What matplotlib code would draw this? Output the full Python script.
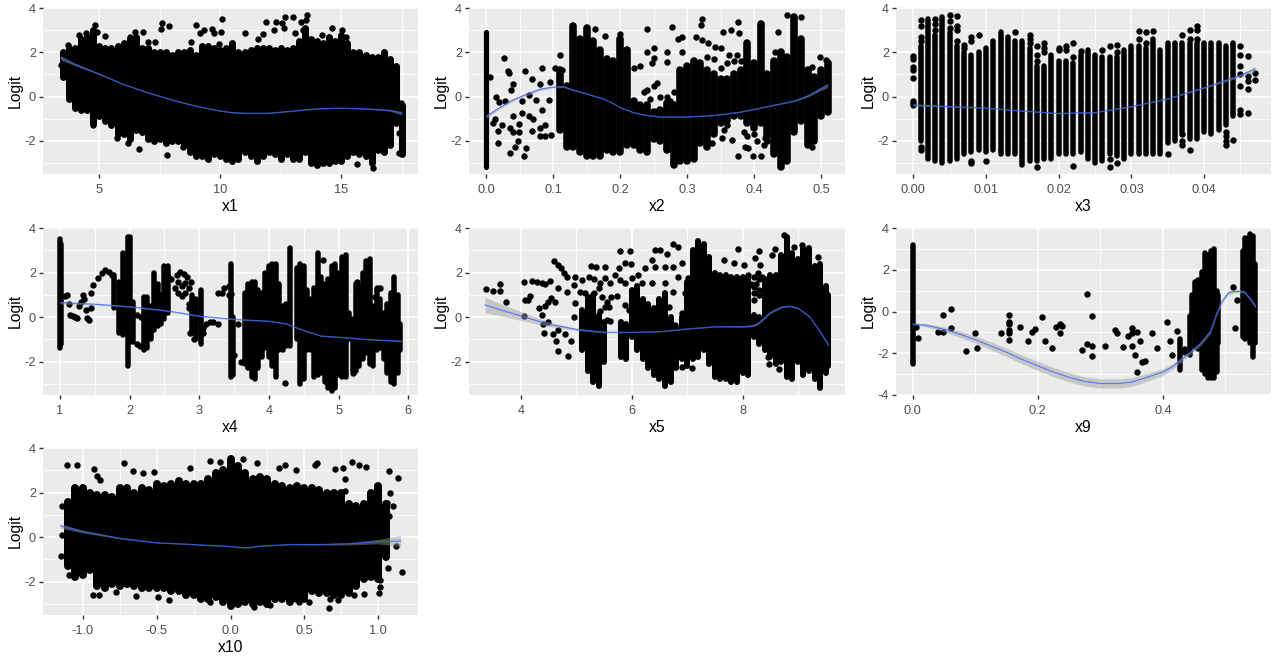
import matplotlib
matplotlib.use("Agg")
import matplotlib.pyplot as plt
import numpy as np

plt.rcParams['font.family'] = ['Liberation Sans', 'DejaVu Sans']

# ---------- x1 ----------
x1_col = [3.5,3.75,4.0,4.25,4.5,4.75,5.0,5.25,5.5,5.75,
          6.0,6.25,6.5,6.75,7.0,7.25,7.5,7.75,8.0,8.25,
          8.5,8.75,9.0,9.25,9.5,9.75,10.0,10.25,10.5,10.75,
          11.0,11.25,11.5,11.75,12.0,12.25,12.5,12.75,13.0,13.25,
          13.5,13.75,14.0,14.25,14.5,14.75,15.0,15.25,15.5,15.75,
          16.0,16.25,16.5,16.75,17.0,17.25,17.5]
x1_lo = [0.9,-0.1,-0.5,-0.6,-0.6,-1.2,-0.9,-1.1,-1.3,-1.7,
         -1.7,-1.9,-1.5,-1.6,-1.9,-2.0,-1.9,-2.1,-2.0,-2.0,
         -2.2,-2.5,-2.7,-2.7,-2.8,-2.6,-2.7,-2.8,-2.9,-2.8,
         -2.5,-2.7,-2.9,-2.7,-2.5,-2.6,-2.8,-2.6,-2.8,-2.8,
         -2.5,-3.0,-3.1,-3.0,-3.0,-2.9,-2.9,-2.7,-2.5,-2.6,
         -2.7,-3.0,-2.4,-2.5,-2.2,-1.2,-2.6]
x1_hi = [2.0,2.2,2.2,2.6,2.7,3.0,2.3,2.2,2.2,2.3,
         2.4,2.6,2.7,2.2,2.2,2.0,2.0,2.0,1.9,2.0,
         2.0,2.1,1.9,2.3,2.3,2.2,2.1,2.2,2.4,2.0,
         2.0,2.1,2.2,2.2,2.2,2.1,2.2,2.1,2.2,2.5,
         3.1,2.6,2.5,2.4,2.7,2.5,2.8,2.4,2.0,2.0,
         1.9,1.8,1.8,2.0,1.7,1.4,-0.4]
x1_px = [3.4,3.72,4.17,4.45,4.8,4.9,5.23,6.27,6.47,6.8,7.0,7.3,7.57,7.53,7.87,8.98,8.8,9.15,9.32,9.66,
         9.75,10.05,10.02,9.95,11.04,11.56,11.77,11.9,12.28,12.2,12.55,12.66,13.0,12.63,13.07,13.35,13.56,13.58,13.42,14.2,
         14.6,15.03,15.2,5.72,6.2,6.65,7.78,8.47,4.75,16.3,15.66,17.4,17.38,17.48,17.17]
x1_py = [1.43,2.33,2.79,2.86,3.24,2.94,2.74,2.71,2.9,2.9,2.45,2.45,3.31,3.06,3.19,3.24,2.48,2.86,3.0,3.06,
         2.86,3.49,2.94,2.36,2.86,2.59,2.82,3.36,3.39,3.0,3.31,3.58,3.58,3.09,2.86,3.39,3.46,3.69,3.0,2.79,
         3.09,3.0,2.7,-1.88,-2.1,-2.38,-2.63,-2.26,-1.28,-3.24,-3.04,-2.56,-1.66,-0.3,0.65]
x1_fit_x = [3.4,4,5,6,7,8,9,10,10.5,11,12,13,14,15,16,17,17.5]
x1_fit_y = [1.75,1.45,1.02,0.55,0.18,-0.15,-0.43,-0.65,-0.72,-0.75,-0.75,-0.65,-0.55,-0.52,-0.55,-0.62,-0.75]
x1_fit_se = [0.1,0.06,0.03,0.02,0.02,0.02,0.02,0.02,0.02,0.02,0.02,0.02,0.02,0.02,0.02,0.04,0.08]

# ---------- x2 ----------
x2_zero_x = [0.0]
x2_zero_lo = [-3.2]
x2_zero_hi = [2.9]
x2_col = [0.11,0.12,0.13,0.14,0.15,0.16,0.17,0.18,0.19,
          0.20,0.21,0.22,0.23,0.24,0.25,0.26,0.27,0.28,0.29,
          0.30,0.31,0.32,0.33,0.34,0.35,0.36,0.37,0.38,0.39,
          0.40,0.41,0.42,0.43,0.44,0.45,0.46,0.47,0.48,0.49,
          0.50,0.51]
x2_lo = [-1.5,-2.3,-2.3,-2.5,-2.7,-2.7,-2.7,-2.4,-2.5,
         -2.5,-2.2,-2.2,-2.4,-2.5,-1.9,-2.0,-2.4,-3.1,-2.9,
         -2.9,-2.8,-2.1,-2.3,-1.7,-1.2,-1.1,-0.9,-0.9,-1.2,
         -1.4,-1.2,-1.8,-2.6,-3.2,-2.9,-1.6,-1.1,-2.2,-2.0,
         -0.9,-0.7]
x2_hi = [1.2,0.5,3.2,2.6,3.1,2.5,2.1,1.7,1.6,
         2.6,2.1,-0.2,-0.4,-0.4,-0.7,-0.6,-0.3,-0.4,1.2,
         1.4,1.6,1.5,1.2,1.0,0.8,0.8,1.0,1.2,2.4,
         1.5,3.3,1.0,1.6,2.0,1.8,3.6,2.6,1.2,0.9,
         1.2,1.5]
x2_px = [.005,.014,.027,.032,.034,.04,.037,.058,.068,.083,.08,.019,.028,.054,.064,.075,.013,.01,.023,.018,
         .017,.04,.053,.035,.04,.049,.049,.064,.07,.069,.08,.08,.088,.083,.097,.088,.035,.057,.06,.048,
         .043,.093,.095,.11,.103,.113,.163,.177,.2,.24,.22,.23,.24,.25,.25,.247,.27,.27,.277,.287,
         .293,.292,.313,.322,.321,.322,.332,.342,.35,.353,.366,.376,.378,.362,.374,.431,.436,.45,.471,.498,
         .486,.508,.411,.399,.376,.386,.391,.416,.337,.352,.367,.486,
         .35,.36,.34,.33,.38,.37,.355,.36,.385,.39,.4,.405,.415,.42,
         .24,.25,.255,.26,.27,.28,.245,.235,.275]
x2_py = [.9,0,1.73,1.17,1.05,.56,.3,1.16,.8,1.28,.57,-.23,-.2,-.2,.08,-.15,-1.0,-1.2,-1.28,-1.55,
         -2.1,-.87,-.75,-1.43,-1.58,-1.58,-1.23,-.9,-1.02,-1.55,-1.8,-1.43,-1.28,-.6,-1.73,-1.76,-2.53,-2.68,-2.33,-2.03,
         -2.26,-.15,.68,1.88,1.28,1.2,3.04,2.74,2.83,3.04,1.28,1.39,2.0,2.18,1.73,1.54,2.03,1.58,3.13,2.59,
         2.71,2.03,2.68,3.49,3.24,2.56,2.44,2.26,2.18,2.9,3.0,3.39,2.86,1.88,1.88,2.03,2.94,3.69,3.6,1.78,
         1.35,1.66,-2.7,-2.7,-2.7,-2.26,-2.33,-1.88,-2.1,-1.88,-1.96,-2.26,
         1.3,1.5,1.7,1.8,1.6,1.6,-1.5,-1.3,-1.6,-1.8,-1.7,-2.0,-2.2,-2.0,
         .3,.5,.6,0,0,.2,-.1,.2,-.2]
x2_fit_x = [0,.02,.04,.06,.08,.1,.115,.13,.15,.175,.19,.2,.22,.24,.26,.3,.34,.38,.42,.46,.48,.5,.51]
x2_fit_y = [-.9,-.5,-.15,.1,.33,.43,.45,.3,.12,-.1,-.32,-.5,-.72,-.85,-.92,-.92,-.85,-.7,-.45,-.2,.02,.35,.5]
x2_fit_se = [.08,.06,.06,.06,.06,.05,.04,.03,.02,.02,.02,.02,.02,.02,.02,.02,.02,.02,.02,.03,.05,.08,.1]

# ---------- x3 ----------
x3_col = [.001,.002,.003,.004,.005,.006,.007,.008,.009,.010,
          .011,.012,.013,.014,.015,.016,.017,.018,.019,.020,
          .021,.022,.023,.024,.025,.026,.027,.028,.029,.030,
          .031,.032,.033,.034,.035,.036,.037,.038,.039,.040,
          .041,.042,.043,.044]
x3_lo = [-2.0,-2.8,-2.9,-3.0,-2.9,-2.8,-2.6,-2.5,-2.4,-2.5,
         -2.4,-2.6,-2.6,-2.6,-3.1,-2.9,-2.9,-2.8,-2.8,-2.6,
         -2.6,-2.6,-2.5,-2.8,-3.0,-2.9,-2.6,-2.7,-2.8,-2.6,
         -2.6,-2.6,-2.6,-2.6,-2.1,-2.0,-1.6,-1.9,-1.9,-1.6,
         -1.7,-1.5,-1.3,-0.9]
x3_hi = [2.3,3.5,2.8,3.6,2.9,2.3,2.0,1.9,2.0,2.2,
         2.5,2.9,2.7,2.5,2.5,2.2,1.4,1.4,1.9,1.6,
         1.6,1.5,1.9,2.1,1.9,1.8,1.8,1.8,2.1,2.3,
         2.3,2.2,2.6,2.1,2.4,2.4,2.4,2.4,2.4,2.4,
         2.4,2.4,2.3,2.4]
x3_px = [0,0,0,0,0,0,0,0,.045,.045,.045,.045,.045,.045,.045,.046,.046,.046,.046,.046,.047,.047,
         .001,.001,.001,.001,.001,.001,.003,.003,.003,.005,.005,.005,.006,.006,.006,.006,.007,.007,
         .008,.008,.008,.008,.009,.010,.014,.016,.016,.016,.017,.017,.017,.017,.018,.018,.018,.020,.020,.021,
         .021,.022,.022,.022,.023,.026,.027,.027,.027,.028,.028,.028,.031,.031,.032,.032,.033,.035,.037,.037,
         .037,.037,.038,.038,.038,.039,.039,.039,.043,.043,.043,.043,.044]
x3_py = [-.4,-.3,-.2,.85,1.2,1.35,1.7,1.85,-.8,-.6,.5,1.0,1.4,1.9,2.3,1.85,.35,.7,-.75,.95,.75,1.05,
         2.5,2.7,3.2,3.45,-2.3,-2.4,3.0,3.3,3.5,3.1,3.4,3.7,2.5,3.0,3.2,3.65,2.2,2.35,
         2.5,2.7,-2.9,-3.0,2.8,-2.9,2.9,2.4,2.6,2.8,1.6,1.9,2.3,-3.2,2.0,2.2,2.4,2.1,2.2,2.1,
         2.3,1.8,2.4,-3.15,2.05,2.1,2.3,-2.8,-3.2,2.0,2.35,-3.0,2.6,2.95,2.4,2.9,2.95,-2.6,2.8,-1.7,
         -2.0,-2.2,2.6,3.0,-2.4,2.6,3.0,3.2,-1.6,-1.8,-2.0,-2.2,-1.95]
x3_fit_x = [0,.005,.01,.015,.02,.025,.03,.035,.04,.045,.047]
x3_fit_y = [-.38,-.45,-.52,-.65,-.76,-.72,-.45,-.1,.4,.95,1.25]
x3_fit_se = [.05,.03,.02,.02,.02,.02,.02,.02,.03,.07,.12]

# ---------- x4 ----------
x4_col = [1.0,1.02,1.78,1.85,1.9,1.95,1.98,2.0,2.05,2.2,
          2.25,2.3,2.35,2.4,2.45,2.5,2.55,2.9,2.95,3.03,
          3.45,3.48,3.65,3.7,3.75,3.8,3.85,3.9,3.95,4.0,
          4.05,4.1,4.15,4.2,4.25,4.3,4.4,4.45,4.5,4.55,
          4.6,4.65,4.7,4.75,4.8,4.85,4.9,4.95,5.0,5.05,
          5.1,5.15,5.2,5.25,5.3,5.35,5.4,5.45,5.5,5.55,
          5.6,5.65,5.7,5.75,5.8,5.85,5.88]
x4_lo = [-1.4,-1.2,0.4,-0.7,-0.8,-0.5,-2.2,-1.1,-1.1,-1.5,
         -1.4,-1.0,-0.6,-0.4,-0.3,-0.1,0.2,-0.7,-1.0,-1.2,
         -2.7,-2.6,-2.1,-2.3,-2.7,-2.8,-2.3,-1.8,-1.4,-1.8,
         -2.2,-2.7,-1.5,-1.5,-1.3,-1.3,-1.0,-3.0,-2.8,-1.5,
         -1.5,-2.7,-2.6,-2.5,-2.9,-3.2,-3.3,-3.2,-2.6,-2.7,
         -2.7,-1.0,-2.4,-2.4,-2.2,-1.9,-1.6,-2.1,-2.2,-1.5,
         -1.4,-1.9,-2.5,-2.9,-3.0,-2.5,-1.5]
x4_hi = [3.5,3.3,1.9,1.6,2.9,2.5,3.6,3.6,0.7,0.9,
         0.9,0.5,2.0,1.5,1.0,2.3,2.3,1.0,0.8,1.2,
         2.4,0.0,1.1,1.5,1.6,1.6,1.2,1.1,2.0,2.3,
         2.4,2.4,1.5,0.5,0.6,3.1,2.2,2.4,2.3,1.2,
         0.8,1.3,2.9,1.8,1.5,1.7,2.3,2.4,2.0,2.7,
         2.8,0.2,-0.1,1.5,1.4,2.0,2.5,2.6,0.5,1.2,
         0.8,0.2,0.6,1.1,1.8,1.0,-0.3]
x4_px = [1.1,1.07,1.13,1.14,1.18,1.22,1.24,1.27,1.3,1.33,1.35,1.37,1.39,1.42,1.44,1.44,1.47,1.55,1.6,1.65,
         1.7,1.75,2.1,2.15,2.17,2.1,2.55,2.6,2.65,2.7,2.75,2.8,2.85,2.68,2.72,2.78,2.83,2.88,2.8,2.75,
         2.7,2.52,2.85,2.85,2.87,2.92,3.05,3.1,3.15,3.2,3.27,3.27,3.33,3.36,3.42,3.43,3.45,3.05,3.5,4.23,
         4.78,4.93,5.2,5.27,5.3,5.55,5.6,5.52,3.6,3.55]
x4_py = [1.0,.95,.6,.1,.05,0,-.05,.5,.7,1.0,.8,.3,-.05,-.15,.4,1.1,1.45,1.75,2.0,2.1,
         2.05,1.9,-1.2,-1.3,0,.1,1.8,1.7,1.3,1.1,.95,1.1,1.3,1.9,2.05,1.95,1.8,1.6,1.55,1.4,
         1.6,.5,.6,.4,-.7,-1,-.5,-.3,-.2,-.2,-.3,1.1,1.1,1.3,1.0,1.4,1.05,-.7,-1.7,-2.95,
         2.55,1.5,-2.5,1.6,1.0,1.3,1.3,.9,-2.0,-.3]
x4_fit_x = [1,1.5,2,2.5,3,3.5,4,4.25,4.4,4.5,4.75,5,5.4,5.9]
x4_fit_y = [.65,.58,.47,.3,.05,-.1,-.18,-.3,-.48,-.6,-.85,-.9,-1.0,-1.08]
x4_fit_se = [.06,.04,.03,.03,.03,.03,.02,.02,.02,.02,.02,.02,.02,.03]

# ---------- x5 ----------
x5_col = [5.1,5.2,5.3,5.4,5.5,5.8,5.9,6.0,6.1,6.2,
          6.3,6.4,6.5,6.6,6.7,6.8,6.9,7.0,7.1,7.2,
          7.3,7.4,7.5,7.6,7.7,7.8,7.9,8.0,8.1,8.2,
          8.3,8.4,8.5,8.6,8.7,8.8,8.9,9.0,9.1,9.2,
          9.3,9.4,9.5,9.55]
x5_lo = [-1.5,-2.4,-2.9,-3.1,-2.0,-1.8,-1.9,-0.9,-1.5,-1.9,
         -2.3,-2.6,-2.8,-3.1,-2.9,-2.3,-1.9,-2.2,-1.9,-1.8,
         -1.5,-2.1,-2.7,-2.8,-2.8,-2.9,-2.9,-2.5,-2.6,-0.9,
         -1.2,-1.5,-1.8,-2.1,-2.0,-2.7,-2.8,-2.0,-2.6,-2.4,
         -2.8,-3.2,-2.5,-2.2]
x5_hi = [0.3,0.9,1.0,0.1,-0.2,-0.2,-0.3,1.2,1.4,0.8,
         0.6,0.4,0.8,1.1,0.0,-0.5,0.0,1.6,3.0,3.4,
         3.3,2.7,2.0,1.9,1.9,1.8,1.8,1.8,1.7,0.1,
         0.0,1.7,1.9,1.9,2.8,3.6,2.9,2.6,3.1,3.1,
         2.3,2.4,1.4,1.0]
x5_px = [3.37,3.49,3.62,3.62,3.73,4.06,4.19,4.28,4.37,4.43,4.52,4.07,4.13,4.16,4.06,4.33,4.37,4.4,4.42,4.49,
         4.54,4.49,4.43,4.61,4.58,4.67,4.64,4.66,4.84,4.8,4.9,4.6,4.67,4.73,4.77,4.83,4.67,4.83,4.98,4.95,
         5.1,5.22,5.07,4.98,4.95,5.16,5.31,5.26,5.35,5.52,5.43,5.31,5.4,5.52,5.61,5.7,5.76,5.79,5.96,5.88,
         5.99,5.46,5.55,5.63,5.73,5.52,5.58,5.43,5.55,5.61,5.88,5.95,6.08,5.78,5.88,6.0,6.12,6.18,6.24,6.36,
         6.42,6.51,6.63,6.75,6.84,6.42,6.6,6.75,6.9,6.36,6.6,6.84,7.02,6.75,6.96,6.68,6.9,6.78,7.08,6.9,
         7.66,7.91,7.84,8.02,8.23,8.29,8.32,8.59,8.53,8.74,8.92,9.07,9.36,8.46,8.47,8.65,8.2,8.29,8.05,8.2,
         8.15,8.2,8.25,8.3,8.35,8.1,8.2,8.3,8.27]
x5_py = [1.25,1.19,1.47,1.17,.69,1.56,1.64,1.6,1.52,1.47,1.64,.77,.77,.95,.05,.39,.09,-.29,-.71,-.21,
         .84,.69,.51,.69,-.78,-.59,-1.07,-1.53,-1.76,-.74,-1.07,2.54,2.35,2.2,2.0,1.82,1.29,1.14,1.82,1.44,
         1.67,1.79,1.14,.62,0,1.07,1.7,2.3,2.23,2.27,1.52,1.07,1.29,1.74,1.52,1.89,2.2,2.95,2.99,2.42,
         2.39,.92,.69,.89,.95,.47,.47,.27,-.14,-.17,.54,.32,.84,1.67,1.52,1.74,1.89,1.52,2.2,2.57,
         3.02,3.02,2.83,3.29,3.17,2.27,2.27,2.27,2.42,1.52,1.52,1.82,1.74,1.14,1.07,.47,.17,-.36,-2.3,-2.24,
         2.57,3.05,2.42,2.35,2.65,2.95,2.32,3.05,2.8,3.7,3.17,3.25,2.69,-1.79,-2.09,-2.32,.77,1.0,1.67,1.37,
         1.5,1.8,1.5,1.2,1.8,1.9,1.1,1.7,2.0]
x5_fit_x = [3.35,3.6,4,4.5,5,5.5,6,6.5,7,7.5,8,8.2,8.3,8.5,8.7,8.85,9.0,9.2,9.4,9.55]
x5_fit_y = [.55,.35,.05,-.32,-.55,-.68,-.68,-.65,-.53,-.43,-.43,-.38,-.25,.2,.45,.5,.4,.05,-.65,-1.25]
x5_fit_se = [.35,.28,.2,.1,.05,.03,.02,.02,.02,.02,.03,.05,.05,.05,.04,.03,.03,.03,.04,.07]

# ---------- x9 ----------
x9_col = [0.0,.428,.436,.444,.447,.452,.457,.462,.467,.472,
          .477,.482,.487,.489,.528,.532,.536,.54,.544,.547]
x9_lo = [-2.5,-2.8,-2.0,-2.1,-0.9,-1.7,-1.8,-2.8,-3.0,-3.2,
         -3.2,-3.2,-2.9,-1.5,-1.2,-1.3,-1.2,-1.5,-2.2,-1.5]
x9_hi = [3.2,-1.3,-1.8,-0.2,0.8,1.4,1.5,1.9,2.8,2.7,
         2.9,3.0,1.0,0.8,2.9,3.5,3.5,3.7,3.6,2.3]
x9_px = [.009,.005,.041,.048,.048,.061,.062,.086,.1,.103,.142,.154,.154,.154,.154,.154,.154,.171,.185,.191,
         .195,.206,.211,.222,.229,.235,.238,.235,.271,.278,.279,.286,.287,.286,.308,.323,.326,.337,.345,.35,
         .351,.351,.359,.355,.364,.359,.366,.371,.383,.39,.407,.411,.414,.423,.513,.519,.515]
x9_py = [-1.29,-.73,-1,-.97,-.18,.1,-.81,-1.87,-1.05,-1.77,-1.05,-.17,-.49,-.6,-.89,-1.02,-1.37,-.76,-1.43,-1,
         -.86,-.28,-1.39,-1.77,-.76,-.6,-.67,-1.05,-1.82,-1.58,.83,-.23,-1.63,-2.11,-1.63,-.89,-1.05,-1.72,-1.19,-1.63,
         -.81,-1.05,-1,-2.06,-1.39,-2.88,-2.4,-2.35,-1.05,-1.77,-.52,-1.39,-2.06,-.91,1.19,.55,-.81]
x9_fit_x = [0,.02,.05,.075,.1,.125,.15,.175,.2,.225,.25,.275,.3,.33,.35,.37,.385,.4,.415,.43,.445,.46,.476,.486,.495,.505,.515,.53,.54,.548]
x9_fit_y = [-.6,-.65,-.85,-1.08,-1.35,-1.65,-1.95,-2.3,-2.6,-2.9,-3.15,-3.35,-3.45,-3.45,-3.38,-3.2,-3.05,-2.9,-2.65,-2.3,-1.95,-1.55,-.97,-.1,.5,.9,.97,.95,.6,.25]
x9_fit_se = [.04,.08,.12,.15,.17,.19,.2,.21,.22,.22,.22,.22,.22,.22,.21,.2,.18,.16,.14,.12,.1,.1,.1,.1,.1,.09,.08,.06,.06,.08]

# ---------- x10 ----------
x10_col = [-1.10,-1.05,-1.00,-.95,-.90,-.85,-.80,-.75,-.70,-.65,
           -.60,-.55,-.50,-.45,-.40,-.35,-.30,-.25,-.20,-.15,
           -.10,-.05,0.0,.05,.10,.15,.20,.25,.30,.35,
           .40,.45,.50,.55,.60,.65,.70,.75,.80,.85,
           .90,.95,1.00,1.05]
x10_lo = [-1.3,-1.8,-1.7,-1.5,-2.2,-2.3,-2.1,-2.2,-2.1,-2.2,
          -2.3,-2.3,-2.3,-2.3,-2.4,-2.4,-2.6,-2.6,-2.8,-2.8,
          -2.7,-2.9,-3.1,-3.0,-2.9,-3.0,-2.9,-3.0,-2.8,-2.8,
          -2.9,-2.8,-2.8,-2.4,-2.5,-2.5,-2.6,-2.6,-2.5,-2.2,
          -1.9,-1.8,-1.9,-0.9]
x10_hi = [1.6,2.2,2.2,2.0,1.9,1.9,1.8,2.2,2.2,2.0,
          2.2,2.1,2.4,2.3,2.4,2.5,2.4,2.4,2.4,2.6,
          2.9,3.0,3.5,3.2,2.9,2.6,2.7,2.6,2.4,2.3,
          2.2,2.3,2.2,2.2,2.1,2.0,2.0,2.0,1.5,1.4,
          1.5,2.0,2.3,1.5]
x10_px = [-1.109,-1.04,-.92,-.717,-.656,-.593,-.514,-.904,-.88,-.927,-.888,-.773,-.636,-.487,-.413,-.273,-.142,-.07,-.138,.162,
          .268,.083,.178,.33,.37,.444,.573,.584,.708,.764,.825,.866,.918,1.069,1.136,1.08,1.098,1.069,1.12,1.159,
          1.062,1.001,.663,.67,.73,.832,.9,.46,.528,-1.145,-1.141,-1.141,-1.089,1.012,1.012,1.035,1.058,.771,.776]
x10_py = [3.26,3.22,3.07,3.31,2.96,2.89,2.93,2.74,2.56,-2.6,-2.6,-2.48,-2.63,-2.71,-2.83,3.11,3.41,3.37,-2.9,-3.13,
          -3.05,3.49,3.34,3.11,3.26,3.01,3.26,3.34,3.04,3.11,3.38,3.22,3.16,2.96,2.66,1.98,1.41,.96,-.39,-1.58,
          -1.4,-2.53,-3.2,-2.8,-2.83,-2.6,-2.56,-2.93,-2.93,-.84,.1,1.38,-1.7,-2.23,-1.92,.86,1.53,2.59,2.06]
x10_fit_x = [-1.15,-1,-.75,-.5,-.25,0,.1,.2,.4,.6,.8,1,1.15]
x10_fit_y = [.5,.25,-.05,-.25,-.33,-.42,-.48,-.4,-.33,-.33,-.3,-.2,-.18]
x10_fit_se = [.1,.06,.03,.02,.02,.02,.02,.02,.02,.03,.05,.1,.25]

W, H = 1279, 661
DPI = 100
PX = 72 / DPI

fig = plt.figure(figsize=(W / DPI, H / DPI), dpi=DPI, facecolor='white')


def panel(box, xlim, ylim, xticks, xlabels, xminor, yticks, yminor, name,
          col, lo, hi, px, py, fx, fy, fs, col_lw):
    l, t, r, b = box
    ax = fig.add_axes([l / W, 1 - b / H, (r - l) / W, (b - t) / H])
    ax.set_facecolor('#EBEBEB')
    for s in ax.spines.values():
        s.set_visible(False)
    ax.set_xlim(*xlim)
    ax.set_ylim(*ylim)
    ax.set_xticks(xticks)
    ax.set_xticklabels(xlabels)
    ax.set_yticks(yticks)
    ax.set_yticklabels([str(v) for v in yticks])
    ax.set_xticks(xminor, minor=True)
    ax.set_yticks(yminor, minor=True)
    ax.tick_params(which='major', length=3, width=1.4 * PX, color='#333333',
                   labelcolor='#4D4D4D', labelsize=9.2)
    ax.tick_params(axis='x', which='major', pad=4)
    ax.tick_params(axis='y', which='major', pad=2)
    ax.tick_params(which='minor', length=0)
    ax.grid(which='major', color='white', lw=1.5 * PX)
    ax.grid(which='minor', color='white', lw=0.8 * PX)
    ax.set_axisbelow(True)
    ax.set_xlabel(name, fontsize=11.3, color='black', labelpad=2.5)
    ax.set_ylabel('Logit', fontsize=11.3, color='black', labelpad=1.5)

    ax.vlines(col, lo, hi, colors='black', linewidth=col_lw * PX,
              capstyle='round', zorder=3)
    ax.scatter(px, py, s=(6.4 * PX) ** 2, c='black', linewidths=0, zorder=3)
    fx, fy, fs = np.array(fx), np.array(fy), np.array(fs)
    ax.fill_between(fx, fy - fs, fy + fs, color='#999999', alpha=0.45, lw=0, zorder=4)
    ax.plot(fx, fy, color='#3366FF', lw=1.1 * PX, alpha=0.8, zorder=5,
            solid_joinstyle='round')
    return ax


Y = (-3.5, 4.05)
YT, YM = [-2, 0, 2, 4], [-3, -1, 1, 3]

panel((43, 7, 418, 174), (2.67, 18.17), Y, [5, 10, 15], ['5', '10', '15'], [7.5, 12.5, 17.5],
      YT, YM, 'x1', x1_col, x1_lo, x1_hi, x1_px, x1_py, x1_fit_x, x1_fit_y, x1_fit_se, 7)
ax2 = panel((469, 7, 845, 174), (-0.0258, 0.536), Y, [0, .1, .2, .3, .4, .5],
            ['0.0', '0.1', '0.2', '0.3', '0.4', '0.5'], [.05, .15, .25, .35, .45],
            YT, YM, 'x2', x2_col, x2_lo, x2_hi, x2_px, x2_py, x2_fit_x, x2_fit_y, x2_fit_se, 7.6)
ax2.vlines(x2_zero_x, x2_zero_lo, x2_zero_hi, colors='black', linewidth=5.2 * PX,
           capstyle='round', zorder=3)
panel((896, 7, 1271, 174), (-0.00238, 0.0492), Y, [0, .01, .02, .03, .04],
      ['0.00', '0.01', '0.02', '0.03', '0.04'], [.005, .015, .025, .035, .045],
      YT, YM, 'x3', x3_col, x3_lo, x3_hi, x3_px, x3_py, x3_fit_x, x3_fit_y, x3_fit_se, 5.5)
panel((43, 227, 418, 395), (0.756, 6.14), Y, [1, 2, 3, 4, 5, 6], list('123456'),
      [1.5, 2.5, 3.5, 4.5, 5.5],
      YT, YM, 'x4', x4_col, x4_lo, x4_hi, x4_px, x4_py, x4_fit_x, x4_fit_y, x4_fit_se, 5.5)
panel((469, 227, 845, 395), (3.06, 9.85), Y, [4, 6, 8], ['4', '6', '8'], [5, 7, 9],
      YT, YM, 'x5', x5_col, x5_lo, x5_hi, x5_px, x5_py, x5_fit_x, x5_fit_y, x5_fit_se, 6)
panel((896, 227, 1271, 395), (-0.0267, 0.573), (-4.0, 4.05), [0, .2, .4], ['0.0', '0.2', '0.4'],
      [.1, .3, .5], [-4, -2, 0, 2, 4], [-3, -1, 1, 3],
      'x9', x9_col, x9_lo, x9_hi, x9_px, x9_py, x9_fit_x, x9_fit_y, x9_fit_se, 5.5)
panel((43, 447, 418, 615), (-1.268, 1.268), Y, [-1, -.5, 0, .5, 1],
      ['-1.0', '-0.5', '0.0', '0.5', '1.0'], [-.75, -.25, .25, .75],
      YT, YM, 'x10', x10_col, x10_lo, x10_hi, x10_px, x10_py, x10_fit_x, x10_fit_y, x10_fit_se, 8)

fig.savefig('out.png', dpi=DPI, facecolor='white')
